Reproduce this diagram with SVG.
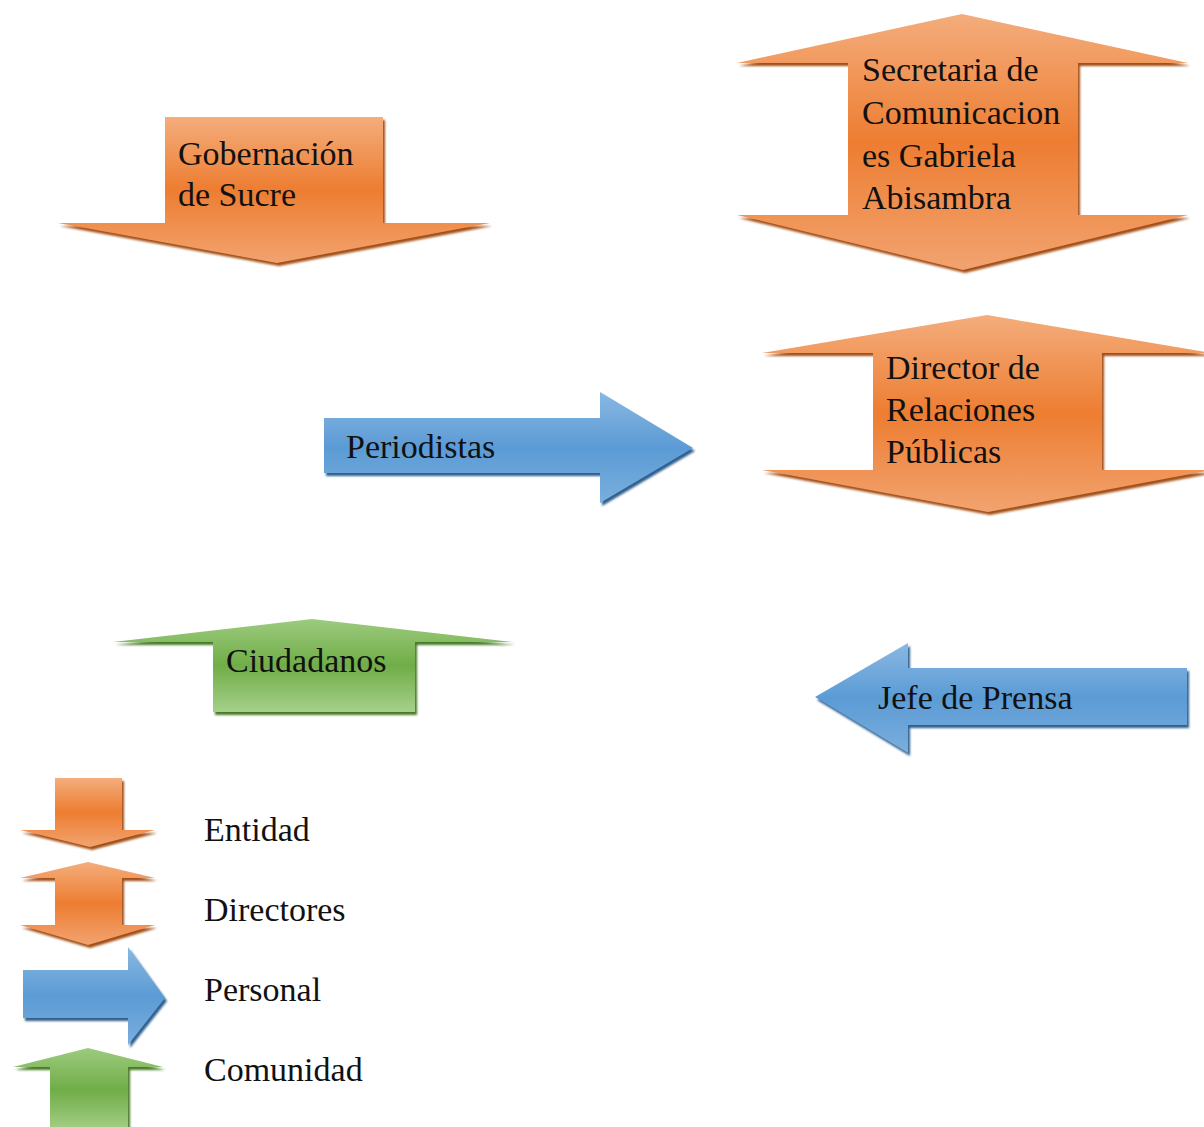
<svg xmlns="http://www.w3.org/2000/svg" width="1204" height="1127" viewBox="0 0 1204 1127">
<defs>
<linearGradient id="gOr" x1="0" y1="0" x2="0" y2="1">
<stop offset="0" stop-color="#f4ad7c"/><stop offset="0.5" stop-color="#ed7d31"/><stop offset="1" stop-color="#f2a370"/>
</linearGradient>
<linearGradient id="gBl" x1="0" y1="0" x2="0" y2="1">
<stop offset="0" stop-color="#8ab8e2"/><stop offset="0.5" stop-color="#5b9bd5"/><stop offset="1" stop-color="#7aaedd"/>
</linearGradient>
<linearGradient id="gGr" x1="0" y1="0" x2="0" y2="1">
<stop offset="0" stop-color="#9ccb7e"/><stop offset="0.5" stop-color="#70ad47"/><stop offset="1" stop-color="#a6d08a"/>
</linearGradient>
<filter id="blur" x="-5%" y="-5%" width="110%" height="110%"><feGaussianBlur stdDeviation="1.2"/></filter>
</defs>
<style>
.o{fill:url(#gOr)}
.b{fill:url(#gBl)}
.g{fill:url(#gGr)}
.so{fill:#a34f17;filter:url(#blur)}
.sb{fill:#2f5f8e;filter:url(#blur)}
.sg{fill:#4a7a2c;filter:url(#blur)}
text{font-family:"Liberation Serif","Times New Roman",serif;font-size:34px;fill:#111}
</style>
<g id="connectors"/>
<g id="gobernacion">
<path class="so" transform="translate(2,3)" d="M165,117 H383 V223 H490 L277,263 L58,223 H165 Z"/>
<path class="o" d="M165,117 H383 V223 H490 L277,263 L58,223 H165 Z"/>
<text x="178" y="165">Gobernación</text>
<text x="178" y="206">de Sucre</text>
</g>
<g id="secretaria">
<path class="so" transform="translate(2,3)" d="M962,14 L1188,63 H1078 V215 H1188 L963,270 L737,215 H848 V63 H737 Z"/>
<path class="o" d="M962,14 L1188,63 H1078 V215 H1188 L963,270 L737,215 H848 V63 H737 Z"/>
<text x="862" y="81">Secretaria de</text>
<text x="862" y="124">Comunicacion</text>
<text x="862" y="167">es Gabriela</text>
<text x="862" y="209">Abisambra</text>
</g>
<g id="director">
<path class="so" transform="translate(2,3)" d="M987,315 L1212,353 H1102 V470 H1212 L988,512 L762,470 H873 V353 H762 Z"/>
<path class="o" d="M987,315 L1212,353 H1102 V470 H1212 L988,512 L762,470 H873 V353 H762 Z"/>
<text x="886" y="379">Director de</text>
<text x="886" y="421">Relaciones</text>
<text x="886" y="463">Públicas</text>
</g>
<g id="periodistas">
<path class="sb" transform="translate(2,3)" d="M324,418 H600 V392 L693,448 L600,503 V473 H324 Z"/>
<path class="b" d="M324,418 H600 V392 L693,448 L600,503 V473 H324 Z"/>
<text x="346" y="458">Periodistas</text>
</g>
<g id="ciudadanos">
<path class="sg" transform="translate(2,3)" d="M312,619 L513,642 H415 V712 H213 V642 H113 Z"/>
<path class="g" d="M312,619 L513,642 H415 V712 H213 V642 H113 Z"/>
<text x="226" y="672">Ciudadanos</text>
</g>
<g id="jefe">
<path class="sb" transform="translate(2,3)" d="M815,697 L908,643 V668 H1187 V725 H908 V753 Z"/>
<path class="b" d="M815,697 L908,643 V668 H1187 V725 H908 V753 Z"/>
<text x="878" y="709">Jefe de Prensa</text>
</g>
<g id="legend-entidad">
<path class="so" transform="translate(2,3)" d="M55,778 H122 V830 H155 L90,847 L20,830 H55 Z"/>
<path class="o" d="M55,778 H122 V830 H155 L90,847 L20,830 H55 Z"/>
<text x="204" y="841">Entidad</text>
</g>
<g id="legend-directores">
<path class="so" transform="translate(2,3)" d="M88,862 L155,878 H122 V925 H155 L88,945 L20,925 H55 V878 H20 Z"/>
<path class="o" d="M88,862 L155,878 H122 V925 H155 L88,945 L20,925 H55 V878 H20 Z"/>
<text x="204" y="921">Directores</text>
</g>
<g id="legend-personal">
<path class="sb" transform="translate(2,3)" d="M23,970 H128 V947 L165,998 L128,1045 V1018 H23 Z"/>
<path class="b" d="M23,970 H128 V947 L165,998 L128,1045 V1018 H23 Z"/>
<text x="204" y="1001">Personal</text>
</g>
<g id="legend-comunidad">
<path class="sg" transform="translate(2,3)" d="M88,1048 L163,1067 H128 V1132 H50 V1067 H13 Z"/>
<path class="g" d="M88,1048 L163,1067 H128 V1132 H50 V1067 H13 Z"/>
<text x="204" y="1081">Comunidad</text>
</g>
</svg>
